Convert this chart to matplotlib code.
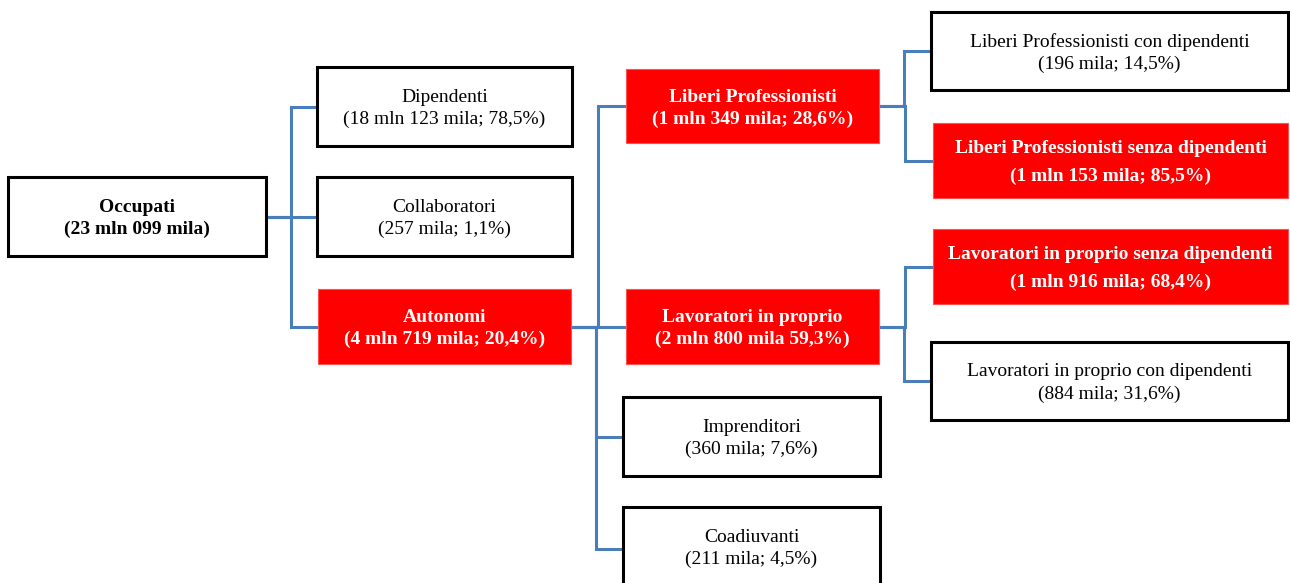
import matplotlib.pyplot as plt
from matplotlib.patches import Rectangle

# node data
names = ['Occupati', 'Dipendenti', 'Collaboratori', 'Autonomi',
         'Liberi Professionisti', 'Lavoratori in proprio', 'Imprenditori', 'Coadiuvanti',
         'Liberi Professionisti con dipendenti', 'Liberi Professionisti senza dipendenti',
         'Lavoratori in proprio senza dipendenti', 'Lavoratori in proprio con dipendenti']
values = ['(23 mln 099 mila)', '(18 mln 123 mila; 78,5%)', '(257 mila; 1,1%)',
          '(4 mln 719 mila; 20,4%)', '(1 mln 349 mila; 28,6%)', '(2 mln 800 mila 59,3%)',
          '(360 mila; 7,6%)', '(211 mila; 4,5%)', '(196 mila; 14,5%)',
          '(1 mln 153 mila; 85,5%)', '(1 mln 916 mila; 68,4%)', '(884 mila; 31,6%)']
highlight = [False, False, False, True, True, True, False, False, False, True, True, False]
parents = [None, 0, 0, 0, 3, 3, 3, 3, 4, 4, 5, 5]

# layout in pixels: x0, y0, x1, y1
boxes = [(8, 177, 266, 256), (317, 67, 572, 146), (317, 177, 572, 256), (318, 289, 571, 364),
         (626, 69, 879, 143), (626, 289, 879, 364), (623, 397, 880, 476), (623, 507, 880, 590),
         (931, 12, 1288, 90), (933, 123, 1288, 198), (933, 229, 1288, 304), (931, 342, 1288, 420)]

fig = plt.figure(figsize=(12.9, 5.83), dpi=100)
ax = fig.add_axes([0, 0, 1, 1])
ax.set_xlim(0, 1290)
ax.set_ylim(583, 0)
ax.axis('off')

line_col = '#4a7ebb'
for i, p in enumerate(parents):
    if p is None:
        continue
    px0, py0, px1, py1 = boxes[p]
    cx0, cy0, cx1, cy1 = boxes[i]
    ym_p = (py0 + py1) / 2
    ym_c = (cy0 + cy1) / 2
    xm = px1 + (cx0 - px1) / 2 - 1
    ax.plot([px1, xm, xm, cx0], [ym_p, ym_p, ym_c, ym_c], color=line_col, lw=2.2, zorder=1,
            solid_joinstyle='miter')

for i in range(len(names)):
    x0, y0, x1, y1 = boxes[i]
    if highlight[i]:
        ax.add_patch(Rectangle((x0, y0), x1 - x0, y1 - y0, facecolor='#ff0000',
                               edgecolor='#ff5050', lw=0.8, zorder=2))
        col, wt = 'white', 'bold'
    else:
        ax.add_patch(Rectangle((x0, y0), x1 - x0, y1 - y0, facecolor='white',
                               edgecolor='black', lw=2.2, zorder=2))
        col, wt = 'black', 'normal'
    if i == 0:
        wt = 'bold'
    xc = (x0 + x1) / 2
    yc = (y0 + min(y1, 583)) / 2 + 2 if i != 7 else 548
    gap = 14 if i in (9, 10) else 11
    ax.text(xc, yc - gap, names[i], ha='center', va='center', color=col, fontweight=wt,
            fontsize=14, family='Liberation Serif', zorder=3)
    ax.text(xc, yc + gap, values[i], ha='center', va='center', color=col, fontweight=wt,
            fontsize=14, family='Liberation Serif', zorder=3)

fig.savefig('out.png', dpi=100)
